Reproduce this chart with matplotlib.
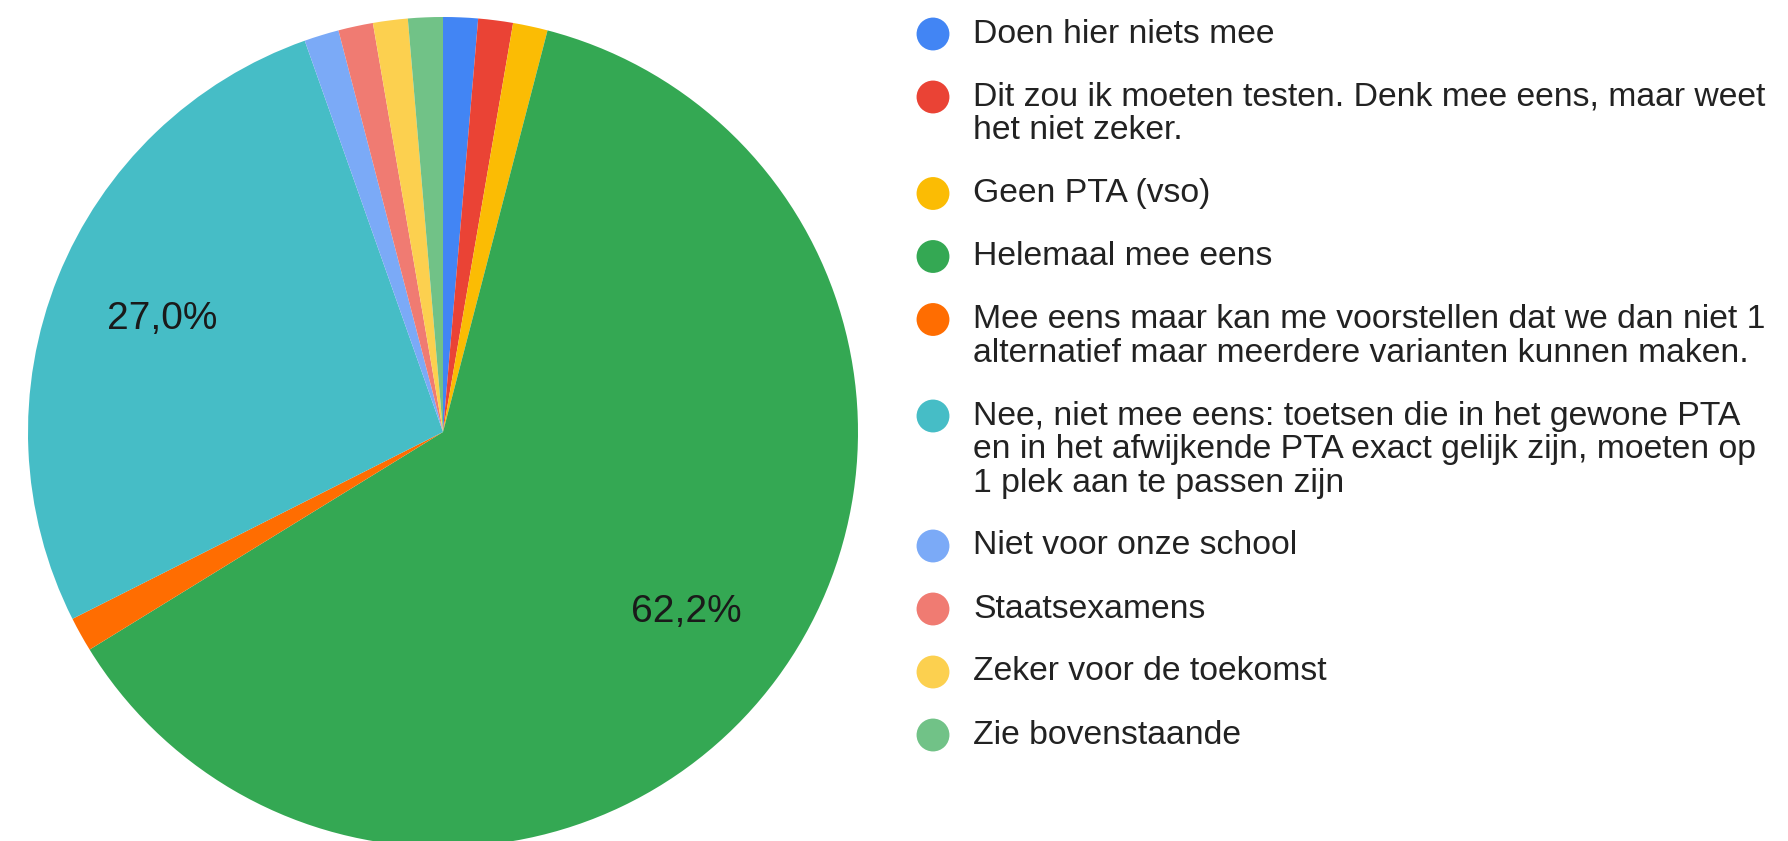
import matplotlib
matplotlib.use("Agg")
import matplotlib.pyplot as plt

# antwoorden (74 respondenten)
labels = [
    "Doen hier niets mee",
    "Dit zou ik moeten testen. Denk mee eens, maar weet\nhet niet zeker.",
    "Geen PTA (vso)",
    "Helemaal mee eens",
    "Mee eens maar kan me voorstellen dat we dan niet 1\nalternatief maar meerdere varianten kunnen maken.",
    "Nee, niet mee eens: toetsen die in het gewone PTA\nen in het afwijkende PTA exact gelijk zijn, moeten op\n1 plek aan te passen zijn",
    "Niet voor onze school",
    "Staatsexamens",
    "Zeker voor de toekomst",
    "Zie bovenstaande",
]
counts = [1, 1, 1, 46, 1, 20, 1, 1, 1, 1]
colors = ["#4285F4", "#EA4335", "#FBBC04", "#34A853", "#FF6D01",
          "#46BDC6", "#7BAAF7", "#F07B72", "#FCD04F", "#71C287"]

plt.rcParams["font.family"] = ["Liberation Sans", "DejaVu Sans"]

W, H = 1788, 841
fig = plt.figure(figsize=(W / 100, H / 100), dpi=100)

# taart
cx, cy, r = 443, 432, 415
ax = fig.add_axes([(cx - r) / W, (H - cy - r) / H, 2 * r / W, 2 * r / H])


def fmt(p):
    # alleen grote stukken krijgen een percentage
    return f"{p:.1f}%".replace(".", ",") if p > 5 else ""


wedges, texts, autotexts = ax.pie(
    counts, colors=colors, startangle=90, counterclock=False,
    autopct=fmt, pctdistance=0.73, wedgeprops=dict(linewidth=0),
    textprops=dict(fontsize=28, color="#1a1a1a"))
ax.set_xlim(-1, 1)
ax.set_ylim(-1, 1)
ax.set_aspect("equal")
ax.axis("off")

# legenda
lg = fig.add_axes([0, 0, 1, 1])
lg.set_xlim(0, W)
lg.set_ylim(H, 0)
lg.axis("off")
y = 34
for label, col in zip(labels, colors):
    lg.scatter(933, y, s=560, color=col, edgecolors="none")
    lines = label.split("\n")
    for i, line in enumerate(lines):
        lg.text(973, y + i * 33.5, line, fontsize=24.3, va="center", ha="left",
                color="#222222")
    y += (len(lines) - 1) * 33.5 + 63

fig.savefig("out.png", dpi=100)
